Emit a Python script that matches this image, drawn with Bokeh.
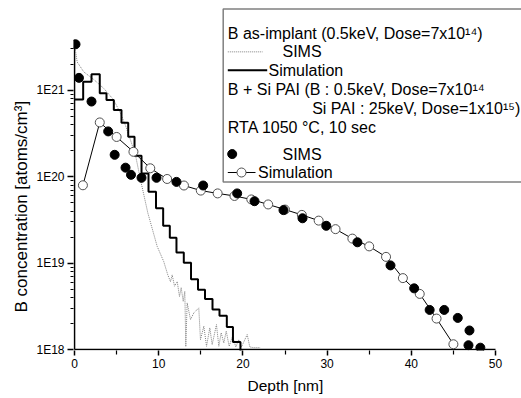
import math
from bokeh.plotting import figure
from bokeh.models import Range1d, FixedTicker, CustomJSTickFormatter, Label, Title
from bokeh.embed import file_html
from bokeh.resources import INLINE

# ---------------- data ----------------
# B as-implant, SIMS (dotted)
sims_implant_depth = [0.0, 0.32, 1.10, 2.29, 3.48, 4.67, 5.46, 6.06, 6.65, 7.24, 7.84, 8.71, 9.82,
                      10.6, 11.08, 11.40, 11.60, 11.88, 12.20, 12.47, 12.67, 12.91, 13.10, 13.22,
                      13.38, 13.78, 14.17, 14.76, 14.96, 15.36, 15.68, 16.07, 16.35, 16.86, 17.14,
                      17.42, 17.73, 18.02, 18.37, 18.76, 19.16, 19.51, 19.83, 20.51, 20.82, 21.29, 22.09]
sims_implant_conc = [3.4e21, 2.12e21, 1.63e21, 1.33e21, 1.05e21, 7.7e20, 5.4e20, 3.9e20, 2.65e20,
                     1.78e20, 9.2e19, 3.8e19, 1.56e19, 1.04e19, 7.3e18, 6.1e18, 7.3e18, 5.4e18,
                     6.1e18, 4.1e18, 5.2e18, 3.6e18, 4.7e18, 1.08e18, 3.46e18, 2.22e18, 2.65e18,
                     3.03e18, 1.30e18, 1.86e18, 1.09e18, 1.78e18, 1.14e18, 1.94e18, 1.09e18,
                     1.56e18, 1.19e18, 1.63e18, 1.09e18, 1.42e18, 1.07e18, 1.30e18, 1.07e18,
                     1.49e18, 1.07e18, 1.05e18, 1.05e18]

# B as-implant, Simulation (step histogram: bin edges and levels)
sim_implant_edges = [0.0, 1.03, 2.02, 3.00, 3.80, 4.67, 5.58, 6.38, 7.13, 7.96, 8.79, 9.68, 10.53,
                     11.32, 12.11, 12.98, 13.84, 14.67, 15.50, 16.39, 17.22, 18.09, 18.82, 19.71]
sim_implant_conc = [7.8e20, 1.25e21, 1.53e21, 9.2e20, 7.7e20, 5.9e20, 4.2e20, 2.9e20, 1.75e20,
                    1.09e20, 6.7e19, 4.3e19, 2.7e19, 1.96e19, 1.33e19, 1.01e19, 6.5e18, 4.9e18,
                    3.85e18, 2.9e18, 2.45e18, 1.82e18, 1.22e18, 8.0e17]

# B + Si PAI, RTA, SIMS (filled dots)
sims_pai_depth = [0.12, 0.53, 2.02, 4.00, 4.77, 6.06, 6.71, 7.96, 9.74, 12.11, 15.28, 19.32, 21.38,
                  24.82, 27.08, 29.90, 33.60, 37.53, 40.34, 42.18, 43.91, 45.52, 46.91, 46.79, 48.20]
sims_pai_conc = [3.4e21, 1.39e21, 7.4e20, 3.34e20, 1.79e20, 1.27e20, 1.05e20, 9.7e19, 9.7e19,
                 8.7e19, 7.9e19, 6.4e19, 5.2e19, 4.1e19, 3.3e19, 2.7e19, 1.74e19, 9.4e18,
                 5.1e18, 2.87e18, 2.87e18, 2.32e18, 1.66e18, 1.12e18, 1.05e18]

# B + Si PAI, RTA, Simulation (line + open circles)
sim_pai_depth = [1, 3, 5, 7, 9, 11, 13, 15, 17, 19, 21, 23, 25, 27, 29, 31, 33, 35, 37, 39, 41, 43, 45]
sim_pai_conc = [7.95e19, 4.24e20, 2.88e20, 1.94e20, 1.25e20, 9.4e19, 7.9e19, 6.9e19, 6.4e19,
                5.98e19, 5.45e19, 4.77e19, 4.16e19, 3.61e19, 3.10e19, 2.47e19, 1.92e19, 1.56e19,
                1.18e19, 6.7e18, 4.4e18, 2.28e18, 1.15e18]

x_ticks = [0, 10, 20, 30, 40, 50]
x_minor = [5, 15, 25, 35, 45]
y_ticks = [1e18, 1e19, 1e20, 1e21]
y_minor = [k * 10.0 ** n for n in (18, 19, 20) for k in range(2, 10)] + [2e21, 3e21]
x_axis_end = 50
y_axis_top = 3.85e21

# ---------------- layout helpers (pixel -> data) ----------------
PX_NM = 8.42      # px per nm
PX_DEC = 86.67    # px per decade
X0_IMG = 74.0     # pixel x of depth 0
Y0_IMG = 350.0    # pixel y of 1E18


def ix(xp):
    return (xp - X0_IMG) / PX_NM


def iy(yp):
    return 10 ** (18 + (Y0_IMG - yp) / PX_DEC)


FONT = "Liberation Sans"
W, H = 521, 398
LB, BB, TB = 73, 47, 0
xs = ix(LB)
xe = xs + (W - LB) / PX_NM
ys = iy(H - BB)
ye = iy(TB)

p = figure(width=W, height=H, x_range=Range1d(xs, xe), y_range=Range1d(ys, ye),
           y_axis_type="log", output_backend="svg", toolbar_location=None,
           min_border_left=LB, min_border_right=0, min_border_top=TB, min_border_bottom=BB)
p.outline_line_color = None
p.xgrid.visible = False
p.ygrid.visible = False
p.background_fill_color = "white"
p.border_fill_color = "white"

for ax in (p.xaxis[0], p.yaxis[0]):
    ax.axis_line_color = None
    ax.major_tick_in = 0
    ax.minor_tick_in = 0
    ax.major_tick_line_width = 1.5
    ax.minor_tick_line_width = 1.2
    ax.major_tick_line_color = "black"
    ax.minor_tick_line_color = "black"
    ax.major_label_text_font = FONT
    ax.major_label_text_font_size = "12px"
    ax.major_label_text_color = "black"

p.xaxis.ticker = FixedTicker(ticks=x_ticks, minor_ticks=x_minor)
p.xaxis.major_tick_out = 5
p.xaxis.minor_tick_out = 4
p.xaxis.major_label_standoff = 3

p.yaxis.ticker = FixedTicker(ticks=y_ticks, minor_ticks=y_minor)
p.yaxis.formatter = CustomJSTickFormatter(code="return '1E' + Math.round(Math.log10(tick));")
p.yaxis.major_tick_out = 6
p.yaxis.minor_tick_out = 3
p.yaxis.major_label_standoff = 3

# axis lines (limited to the data extent, as in the original)
p.segment(x0=[0], y0=[y_ticks[0]], x1=[0], y1=[y_axis_top], line_color="black", line_width=1.6)
p.segment(x0=[0], y0=[y_ticks[0]], x1=[x_axis_end], y1=[y_ticks[0]], line_color="black", line_width=1.6)

# ---------------- data glyphs ----------------
p.line(sims_implant_depth, sims_implant_conc, line_color="#808080", line_width=1, line_dash="1 1")
p.step(sim_implant_edges, sim_implant_conc, mode="after", line_color="black", line_width=2)
p.line(sim_pai_depth, sim_pai_conc, line_color="black", line_width=1)
p.scatter(sim_pai_depth, sim_pai_conc, size=9, marker="circle", fill_color="white",
          line_color="#505050", line_width=1)
p.scatter(sims_pai_depth, sims_pai_conc, size=9, marker="circle", fill_color="black",
          line_color="black")

# ---------------- legend (drawn by hand) ----------------
p.quad(left=[ix(222.7)], right=[ix(560)], top=[iy(8.5)], bottom=[iy(182)],
       fill_color="white", line_color="#808080", line_width=1.5)


def txt(xp, yp, s, size="16px", align="left"):
    p.add_layout(Label(x=ix(xp), y=iy(yp), text=s, text_font=FONT, text_font_size=size,
                       text_baseline="middle", text_align=align, text_color="black"))


txt(227.3, 33, "B as-implant (0.5keV, Dose=7x10\u00b9\u2074)")
p.line([ix(227.3), ix(262)], [iy(51.5), iy(51.5)], line_color="#808080", line_width=1, line_dash="1 1")
txt(282, 51.5, "SIMS")
p.line([ix(227.3), ix(266.7)], [iy(70), iy(70)], line_color="black", line_width=2)
txt(268, 70, "Simulation")
txt(227.3, 89, "B + Si PAI (B : 0.5keV, Dose=7x10\u00b9\u2074")
txt(311.7, 108.5, "Si PAI : 25keV, Dose=1x10\u00b9\u2075)")
txt(227.3, 127.5, "RTA 1050 \u00b0C, 10 sec")
p.scatter([ix(231.7)], [iy(154)], size=9, marker="circle", fill_color="black", line_color="black")
txt(282, 154, "SIMS")
p.line([ix(227.3), ix(255)], [iy(172.5), iy(172.5)], line_color="black", line_width=1)
p.scatter([ix(241)], [iy(172.5)], size=9, marker="circle", fill_color="white",
          line_color="#505050", line_width=1)
txt(257.5, 172.5, "Simulation")

# ---------------- axis titles ----------------
p.add_layout(Title(text="Depth [nm]", text_font=FONT, text_font_size="15.5px", text_font_style="normal",
                   text_color="black", align="left", offset=247 - LB, standoff=9), "below")
p.add_layout(Title(text="B concentration [atoms/cm\u00b3]", text_font=FONT, text_font_size="17px",
                   text_font_style="normal", text_color="black", align="left",
                   offset=(H - BB) - 313, standoff=5), "left")

open("out.html", "w").write(file_html(p, INLINE))
